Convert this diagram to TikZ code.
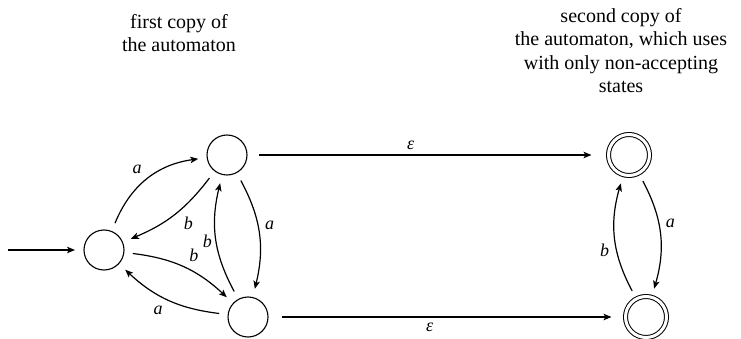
\documentclass[tikz,border=0pt]{standalone}
\usepackage{fontspec}
\setmainfont{Liberation Serif}
\usetikzlibrary{arrows.meta}
\begin{document}
\begin{tikzpicture}[x=1pt,y=-1pt,
  state/.style={circle,draw,line width=1.1pt,minimum size=40pt,inner sep=0pt,outer sep=9pt},
  accstate/.style={circle,draw,line width=1pt,double,double distance=3pt,minimum size=41pt,inner sep=0pt,outer sep=9pt},
  arr/.style={line width=1.2pt,-{Stealth[length=8pt,width=6.5pt,inset=2pt]}},
  lab/.style={font=\fontsize{18}{20}\selectfont\itshape, inner sep=5pt},
  note/.style={font=\fontsize{20}{23.5}\selectfont, align=center, inner sep=0pt, anchor=north}
]
\useasboundingbox (0,0) rectangle (741,339);

\node[state] (q0) at (104,250) {};
\node[state] (q1) at (227,155) {};
\node[state] (q2) at (248,317) {};
\node[accstate] (r1) at (629,155) {};
\node[accstate] (r2) at (646,317) {};
\coordinate (start) at (8,250);

\node[note] (t1) at (179,14) {first copy of\\the automaton};
\node[note] (t2) at (621,8) {second copy of\\the automaton, which uses\\with only non-accepting\\states};

\draw[arr] (start) -- (q0);
\draw[arr] (q0) to[bend left=30] node[lab,auto] {a} (q1);
\draw[arr] (q1) to[bend left=15] node[lab,auto,pos=.45] {b} (q0);
\draw[arr] (q0) to[bend left=18] node[lab,auto,pos=.5] {b} (q2);
\draw[arr] (q2) to[bend left=18] node[lab,auto] {a} (q0);
\draw[arr] (q1) to[bend left=21] node[lab,auto,pos=.52] {a} (q2);
\draw[arr] (q2) to[bend left=21] node[lab,auto,pos=.57,inner sep=2.5pt] {b} (q1);
\draw[arr] (r1) to[bend left=22] node[lab,auto] {a} (r2);
\draw[arr] (r2) to[bend left=22] node[lab,auto] {b} (r1);
\draw[arr, shorten <=3pt, shorten >=8pt] (q1) -- node[lab,pos=.45,above] {ε} (r1);
\draw[arr, shorten <=5pt, shorten >=5pt] (q2) -- node[lab,pos=.45,below] {ε} (r2);
\end{tikzpicture}
\end{document}
